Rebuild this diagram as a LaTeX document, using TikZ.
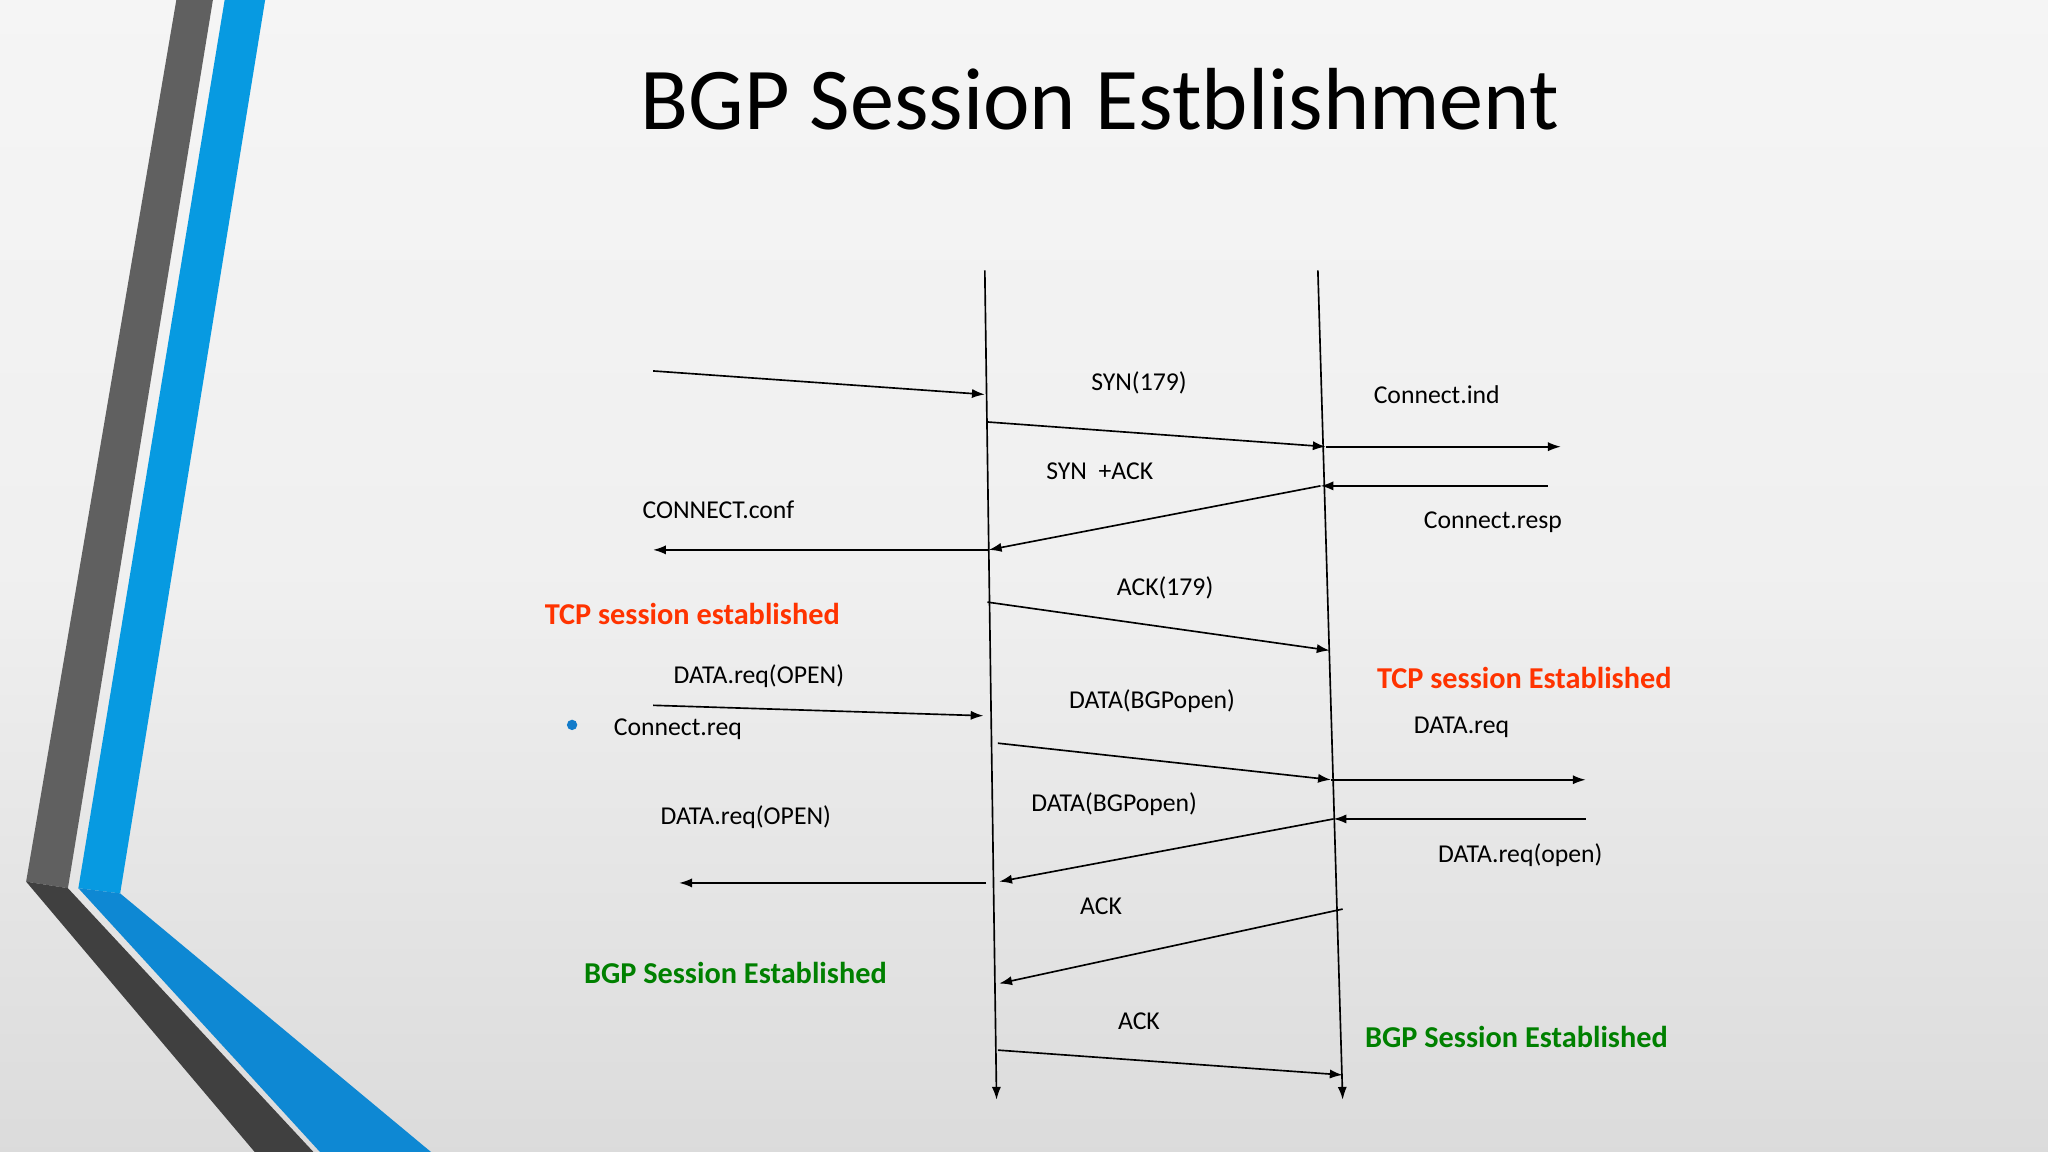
\documentclass[tikz,border=0pt]{standalone}
\usepackage{fontspec}
\setmainfont{Carlito}
\usetikzlibrary{arrows.meta}
\begin{document}
\begin{tikzpicture}[x=0.025cm,y=-0.025cm,
  lbl/.style={font=\fontsize{14}{16}\selectfont, text=black},
  red/.style={font=\fontsize{16.5}{18}\selectfont\bfseries, text=orange!40!red},
  grn/.style={font=\fontsize{16.5}{18}\selectfont\bfseries, text=green!50!black},
  msg/.style={-{Latex[length=7pt,width=5pt]}, line width=0.9pt},
  life/.style={-{Latex[length=7pt,width=5pt]}, line width=0.9pt}]
\useasboundingbox (0,0) rectangle (1568,882);
\shade[top color=gray!8, bottom color=gray!28, middle color=gray!12] (0,0) rectangle (1568,882);
% decoration
\fill[gray!75!black] (135,0) -- (163,0) -- (52,680) -- (20,675) -- cycle;
\fill[black!75] (20,675) -- (52,680) -- (240,882) -- (195,882) -- cycle;
\fill[cyan!85!blue] (172,0) -- (203,0) -- (92,684) -- (60,680) -- cycle;
\fill[cyan!70!blue] (60,680) -- (92,684) -- (330,882) -- (245,882) -- cycle;
\node[font=\fontsize{48}{52}\selectfont] (title) at (842,76) {BGP Session Estblishment};
% lifelines
\coordinate (lt) at (754,207); \coordinate (lb) at (763,842);
\coordinate (rt) at (1009,207); \coordinate (rb) at (1028,842);
\draw[life] (lt) -- (lb);
\draw[life] (rt) -- (rb);
% messages
\coordinate (a1) at (500,284); \coordinate (a2) at (754,302);
\draw[msg] (a1) -- (a2);
\coordinate (b1) at (755,323); \coordinate (b2) at (1015,342); \coordinate (b3) at (1195,342);
\draw[msg] (b1) -- (b2); \draw[msg] (b2) -- (b3);
\coordinate (c1) at (1185,372); \coordinate (c2) at (1011,372); \coordinate (c3) at (757,421); \coordinate (c4) at (500,421);
\draw[msg] (c1) -- (c2); \draw[msg] (c2) -- (c3); \draw[msg] (c3) -- (c4);
\coordinate (d1) at (756,461); \coordinate (d2) at (1018,498);
\draw[msg] (d1) -- (d2);
\coordinate (e1) at (500,540); \coordinate (e2) at (753,548);
\draw[msg] (e1) -- (e2);
\coordinate (f1) at (764,569); \coordinate (f2) at (1019,597); \coordinate (f3) at (1214,597);
\draw[msg] (f1) -- (f2); \draw[msg] (f2) -- (f3);
\coordinate (g1) at (1214,627); \coordinate (g2) at (1021,627); \coordinate (g3) at (765,675);
\coordinate (g4) at (755,676); \coordinate (g5) at (520,676);
\draw[msg] (g1) -- (g2); \draw[msg] (g2) -- (g3); \draw[msg] (g4) -- (g5);
\coordinate (h1) at (1028,696); \coordinate (h2) at (765,753);
\draw[msg] (h1) -- (h2);
\coordinate (i1) at (764,804); \coordinate (i2) at (1028,823);
\draw[msg] (i1) -- (i2);
% labels
\node[lbl] (t1) at (872,293) {SYN(179)};
\node[lbl] (t2) at (1100,302) {Connect.ind};
\node[lbl] (t3) at (842,361) {SYN \ +ACK};
\node[lbl] (t4) at (550,390) {CONNECT.conf};
\node[lbl] (t5) at (1143,400) {Connect.resp};
\node[lbl] (t6) at (892,450) {ACK(179)};
\node[red] (t7) at (530,470) {TCP session established};
\node[red] (t8) at (1167,519) {TCP session Established};
\node[lbl] (t9) at (581,518) {DATA.req(OPEN)};
\node[lbl] (t10) at (882,537) {DATA(BGPopen)};
\node[circle,fill=cyan!60!blue,inner sep=2pt] (bul) at (438,555) {};
\node[lbl] (t11) at (519,558) {Connect.req};
\node[lbl] (t12) at (1119,557) {DATA.req};
\node[lbl] (t13) at (853,616) {DATA(BGPopen)};
\node[lbl] (t14) at (571,626) {DATA.req(OPEN)};
\node[lbl] (t15) at (1164,655) {DATA.req(open)};
\node[lbl] (t16) at (843,694) {ACK};
\node[grn] (t17) at (563,745) {BGP Session Established};
\node[lbl] (t18) at (872,782) {ACK};
\node[grn] (t19) at (1161,794) {BGP Session Established};
\end{tikzpicture}
\end{document}
